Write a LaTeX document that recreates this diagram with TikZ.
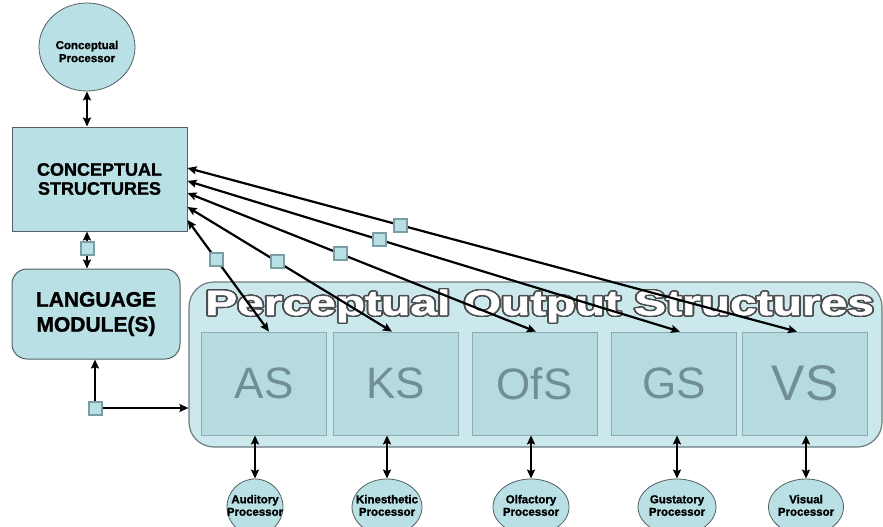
\documentclass[tikz,border=0pt]{standalone}
\usepackage{fontspec}
\setmainfont{Liberation Sans}[BoldFeatures={FakeBold=1.3}]
\usepackage{contour}
\usetikzlibrary{arrows.meta,shapes.geometric}
\contourlength{1.3pt}
\contournumber{32}

\definecolor{boxfill}{RGB}{185,224,229}
\definecolor{posfill}{RGB}{203,233,236}
\definecolor{innerfill}{RGB}{181,219,225}
\definecolor{edgegray}{RGB}{85,95,100}
\definecolor{posedge}{RGB}{110,122,125}
\definecolor{innerline}{RGB}{140,170,175}
\definecolor{innertext}{RGB}{112,142,147}
\definecolor{sqedge}{RGB}{122,158,163}
\definecolor{titleedge}{RGB}{75,77,79}

% zero-width two-line label, so the ellipse keeps its own size
\newcommand\zb[1]{\makebox[0pt]{\begin{tabular}{@{}c@{}}#1\end{tabular}}}

\begin{document}
\begin{tikzpicture}[x=1pt,y=-1pt,
  >={Stealth[length=9pt,width=8pt,inset=1.5pt]},
  link/.style={line width=2.2pt,black},
  hub/.style={rectangle,draw=sqedge,fill=boxfill,line width=2pt,minimum size=13pt,inner sep=0pt},
  proc/.style={ellipse,draw=edgegray,fill=boxfill,line width=0.8pt,inner sep=0pt,
    minimum height=56pt,font=\bfseries\fontsize{11.5}{12.5}\selectfont},
  stru/.style={rectangle,draw=innerline,fill=innerfill,line width=0.8pt,inner sep=0pt,
    minimum width=125pt,minimum height=103pt,text=innertext,font=\fontsize{44}{44}\selectfont}]

\useasboundingbox (0,0) rectangle (883,527);
\clip (0,0) rectangle (883,527);

% upper column
\node[ellipse,draw=edgegray,fill=boxfill,line width=0.8pt,inner sep=0pt,
  minimum width=96pt,minimum height=88pt,font=\bfseries\fontsize{11.5}{13}\selectfont]
  (cp) at (87,47) {\raisebox{-6pt}[\height][\depth]{\zb{Conceptual\\Processor}}};
\node[rectangle,draw=edgegray,fill=boxfill,line width=1pt,minimum width=175pt,minimum height=104pt,
  align=center,font=\bfseries\fontsize{18}{19}\selectfont] (cs) at (99.5,179) {CONCEPTUAL\\STRUCTURES};
\node[rectangle,rounded corners=15pt,draw=edgegray,fill=boxfill,line width=1pt,minimum width=168pt,
  minimum height=90pt,align=center,font=\bfseries\fontsize{21}{25}\selectfont] (lm) at (96,314) {LANGUAGE\\MODULE(S)};

% perceptual output structures
\node[rectangle,rounded corners=25pt,draw=posedge,fill=posfill,line width=1.2pt,
  minimum width=693pt,minimum height=165pt] (pos) at (535.5,364.5) {};
\node[anchor=base west,inner sep=0pt,font=\bfseries\fontsize{35}{35}\selectfont] (title) at (205,315)
  {\scalebox{1.37}[1]{\textcolor{white}{\contour{titleedge}{Perceptual Output Structures}}}};

\node[stru] (as) at (264,383.5) {AS};
\node[stru] (ks) at (395.5,383.5) {KS};
\node[stru] (ofs) at (534.5,383.5) {OfS};
\node[stru] (gs) at (674,383.5) {GS};
\node[stru,font=\fontsize{50}{50}\selectfont] (vs) at (805,383.5) {VS};

% sensory processors
\node[proc,minimum width=56pt] (aud) at (255,507) {\zb{Auditory\\Processor}};
\node[proc,minimum width=70pt] (kin) at (387,507) {\zb{Kinesthetic\\Processor}};
\node[proc,minimum width=76pt] (olf) at (531,507) {\zb{Olfactory\\Processor}};
\node[proc,minimum width=78pt] (gus) at (677,507) {\zb{Gustatory\\Processor}};
\node[proc,minimum width=75pt] (vis) at (806,507) {\zb{Visual\\Processor}};

% interface squares on the language side
\node[hub] (sq1) at (87,248) {};
\node[hub] (sq2) at (95,408) {};

% connectors
\draw[link,<->] (cp.south) -- (cp.south |- cs.north);
\draw[link,->] (sq1.north) -- (sq1 |- cs.south);
\draw[link,->] (sq1.south) -- (sq1 |- lm.north);
\draw[link,->] (sq2.north) -- (sq2 |- lm.south);
\draw[link,->] (sq2.east) -- (sq2 -| pos.west);

\draw[link,<->] ([yshift=11pt]cs.east) -- node[hub,pos=0.35] (h5) {} ([xshift=-8pt]vs.north);
\draw[link,<->] ([yshift=-2pt]cs.east) -- node[hub,pos=0.39] (h4) {} ([xshift=6pt]gs.north);
\draw[link,<->] ([yshift=-14pt]cs.east) -- node[hub,pos=0.44] (h3) {} ([xshift=1.5pt]ofs.north);
\draw[link,<->] ([yshift=-28pt]cs.east) -- node[hub,pos=0.44] (h2) {} ([xshift=-3.5pt]ks.north);
\draw[link,<->] ([yshift=-41pt]cs.east) -- node[hub,pos=0.35] (h1) {} ([xshift=5pt]as.north);

\draw[link,<->] (aud.north) -- (aud.north |- as.south);
\draw[link,<->] (kin.north) -- (kin.north |- ks.south);
\draw[link,<->] (olf.north) -- (olf.north |- ofs.south);
\draw[link,<->] (gus.north) -- (gus.north |- gs.south);
\draw[link,<->] (vis.north) -- (vis.north |- vs.south);
\end{tikzpicture}
\end{document}
